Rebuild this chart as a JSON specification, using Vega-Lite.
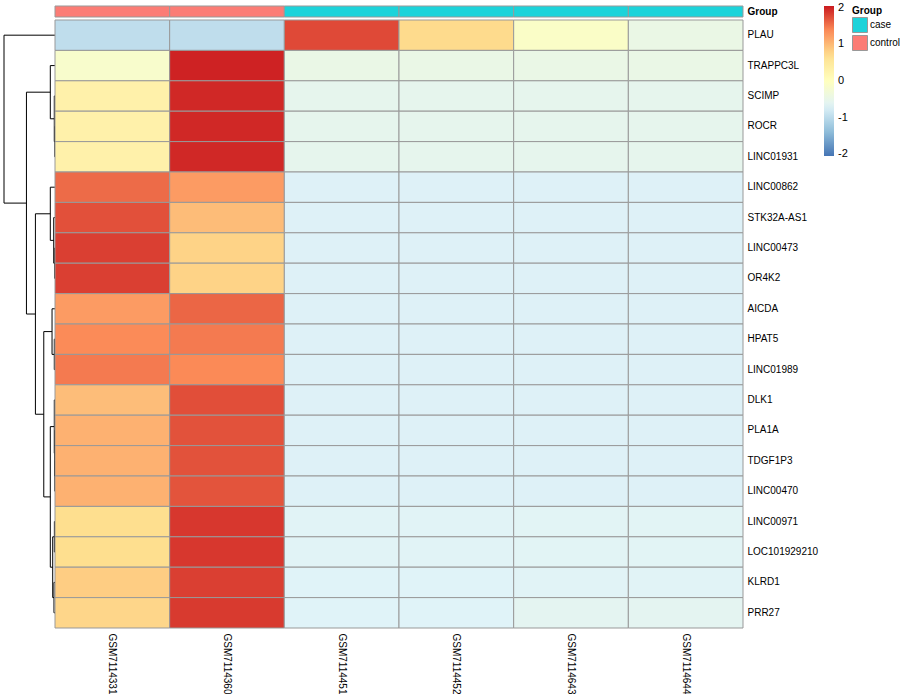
{
  "$schema": "https://vega.github.io/schema/vega-lite/v6.json",
  "padding": {"left": 3, "top": 5, "right": 0, "bottom": 0},
  "background": "white",
  "bounds": "flush",
  "config": {
    "view": {"stroke": null},
    "font": "Liberation Sans",
    "axis": {"labelFont": "Liberation Sans", "labelFontSize": 10, "labelColor": "black", "domain": false, "ticks": false, "grid": false, "title": null},
    "legend": {"labelFont": "Liberation Sans", "titleFont": "Liberation Sans", "labelColor": "black", "titleColor": "black", "padding": 0, "rowPadding": -10}
  },
  "datasets": {
    "links": [
      {"node":"A3","h1":0.04,"h2":0.04,"p1":3,"p2":4},{"node":"A3","h1":0.04,"h2":0,"p1":3,"p2":3},{"node":"A3","h1":0.04,"h2":0,"p1":4,"p2":4},
      {"node":"A2","h1":0.14,"h2":0.14,"p1":2,"p2":3.5},{"node":"A2","h1":0.14,"h2":0,"p1":2,"p2":2},{"node":"A2","h1":0.14,"h2":0.04,"p1":3.5,"p2":3.5},
      {"node":"A","h1":0.92,"h2":0.92,"p1":1,"p2":2.75},{"node":"A","h1":0.92,"h2":0,"p1":1,"p2":1},{"node":"A","h1":0.92,"h2":0.14,"p1":2.75,"p2":2.75},
      {"node":"B1c","h1":0.06,"h2":0.06,"p1":7,"p2":8},{"node":"B1c","h1":0.06,"h2":0,"p1":7,"p2":7},{"node":"B1c","h1":0.06,"h2":0,"p1":8,"p2":8},
      {"node":"B1b","h1":0.25,"h2":0.25,"p1":6,"p2":7.5},{"node":"B1b","h1":0.25,"h2":0,"p1":6,"p2":6},{"node":"B1b","h1":0.25,"h2":0.06,"p1":7.5,"p2":7.5},
      {"node":"B1","h1":0.92,"h2":0.92,"p1":5,"p2":6.75},{"node":"B1","h1":0.92,"h2":0,"p1":5,"p2":5},{"node":"B1","h1":0.92,"h2":0.25,"p1":6.75,"p2":6.75},
      {"node":"B2a2","h1":0.14,"h2":0.14,"p1":10,"p2":11},{"node":"B2a2","h1":0.14,"h2":0,"p1":10,"p2":10},{"node":"B2a2","h1":0.14,"h2":0,"p1":11,"p2":11},
      {"node":"B2a","h1":0.58,"h2":0.58,"p1":9,"p2":10.5},{"node":"B2a","h1":0.58,"h2":0,"p1":9,"p2":9},{"node":"B2a","h1":0.58,"h2":0.14,"p1":10.5,"p2":10.5},
      {"node":"B2b1c","h1":0.04,"h2":0.04,"p1":14,"p2":15},{"node":"B2b1c","h1":0.04,"h2":0,"p1":14,"p2":14},{"node":"B2b1c","h1":0.04,"h2":0,"p1":15,"p2":15},
      {"node":"B2b1b","h1":0.08,"h2":0.08,"p1":13,"p2":14.5},{"node":"B2b1b","h1":0.08,"h2":0,"p1":13,"p2":13},{"node":"B2b1b","h1":0.08,"h2":0.04,"p1":14.5,"p2":14.5},
      {"node":"B2b1","h1":0.14,"h2":0.14,"p1":12,"p2":13.75},{"node":"B2b1","h1":0.14,"h2":0,"p1":12,"p2":12},{"node":"B2b1","h1":0.14,"h2":0.08,"p1":13.75,"p2":13.75},
      {"node":"B2b2a","h1":0.12,"h2":0.12,"p1":16,"p2":17},{"node":"B2b2a","h1":0.12,"h2":0,"p1":16,"p2":16},{"node":"B2b2a","h1":0.12,"h2":0,"p1":17,"p2":17},
      {"node":"B2b2b","h1":0.2,"h2":0.2,"p1":18,"p2":19},{"node":"B2b2b","h1":0.2,"h2":0,"p1":18,"p2":18},{"node":"B2b2b","h1":0.2,"h2":0,"p1":19,"p2":19},
      {"node":"B2b2","h1":0.45,"h2":0.45,"p1":16.5,"p2":18.5},{"node":"B2b2","h1":0.45,"h2":0.12,"p1":16.5,"p2":16.5},{"node":"B2b2","h1":0.45,"h2":0.2,"p1":18.5,"p2":18.5},
      {"node":"B2b","h1":0.92,"h2":0.92,"p1":12.875,"p2":17.5},{"node":"B2b","h1":0.92,"h2":0.14,"p1":12.875,"p2":12.875},{"node":"B2b","h1":0.92,"h2":0.45,"p1":17.5,"p2":17.5},
      {"node":"B2","h1":2.2,"h2":2.2,"p1":9.75,"p2":15.1875},{"node":"B2","h1":2.2,"h2":0.58,"p1":9.75,"p2":9.75},{"node":"B2","h1":2.2,"h2":0.92,"p1":15.1875,"p2":15.1875},
      {"node":"B","h1":3.84,"h2":3.84,"p1":5.875,"p2":12.46875},{"node":"B","h1":3.84,"h2":0.92,"p1":5.875,"p2":5.875},{"node":"B","h1":3.84,"h2":2.2,"p1":12.46875,"p2":12.46875},
      {"node":"N2","h1":5.6,"h2":5.6,"p1":1.875,"p2":9.171875},{"node":"N2","h1":5.6,"h2":0.92,"p1":1.875,"p2":1.875},{"node":"N2","h1":5.6,"h2":3.84,"p1":9.171875,"p2":9.171875},
      {"node":"root","h1":10,"h2":10,"p1":0,"p2":5.5234375},{"node":"root","h1":10,"h2":0,"p1":0,"p2":0},{"node":"root","h1":10,"h2":5.6,"p1":5.5234375,"p2":5.5234375}
    ],
    "groups": [
      {"sample":"GSM7114331","Group":"control","track":"Group"},
      {"sample":"GSM7114360","Group":"control","track":"Group"},
      {"sample":"GSM7114451","Group":"case","track":"Group"},
      {"sample":"GSM7114452","Group":"case","track":"Group"},
      {"sample":"GSM7114643","Group":"case","track":"Group"},
      {"sample":"GSM7114644","Group":"case","track":"Group"}
    ],
    "expr": [
      {"gene":"PLAU","GSM7114331":-0.97,"GSM7114360":-0.97,"GSM7114451":1.77,"GSM7114452":0.72,"GSM7114643":-0.1,"GSM7114644":-0.45},
      {"gene":"TRAPPC3L","GSM7114331":-0.15,"GSM7114360":2.0,"GSM7114451":-0.47,"GSM7114452":-0.47,"GSM7114643":-0.47,"GSM7114644":-0.47},
      {"gene":"SCIMP","GSM7114331":0.3,"GSM7114360":1.97,"GSM7114451":-0.55,"GSM7114452":-0.55,"GSM7114643":-0.55,"GSM7114644":-0.55},
      {"gene":"ROCR","GSM7114331":0.3,"GSM7114360":1.97,"GSM7114451":-0.55,"GSM7114452":-0.55,"GSM7114643":-0.55,"GSM7114644":-0.55},
      {"gene":"LINC01931","GSM7114331":0.3,"GSM7114360":1.97,"GSM7114451":-0.55,"GSM7114452":-0.55,"GSM7114643":-0.55,"GSM7114644":-0.55},
      {"gene":"LINC00862","GSM7114331":1.57,"GSM7114360":1.25,"GSM7114451":-0.7,"GSM7114452":-0.7,"GSM7114643":-0.7,"GSM7114644":-0.7},
      {"gene":"STK32A-AS1","GSM7114331":1.73,"GSM7114360":0.98,"GSM7114451":-0.7,"GSM7114452":-0.7,"GSM7114643":-0.7,"GSM7114644":-0.7},
      {"gene":"LINC00473","GSM7114331":1.83,"GSM7114360":0.79,"GSM7114451":-0.7,"GSM7114452":-0.7,"GSM7114643":-0.7,"GSM7114644":-0.7},
      {"gene":"OR4K2","GSM7114331":1.83,"GSM7114360":0.79,"GSM7114451":-0.7,"GSM7114452":-0.7,"GSM7114643":-0.7,"GSM7114644":-0.7},
      {"gene":"AICDA","GSM7114331":1.25,"GSM7114360":1.6,"GSM7114451":-0.7,"GSM7114452":-0.7,"GSM7114643":-0.7,"GSM7114644":-0.7},
      {"gene":"HPAT5","GSM7114331":1.38,"GSM7114360":1.48,"GSM7114451":-0.7,"GSM7114452":-0.7,"GSM7114643":-0.7,"GSM7114644":-0.7},
      {"gene":"LINC01989","GSM7114331":1.48,"GSM7114360":1.39,"GSM7114451":-0.7,"GSM7114452":-0.7,"GSM7114643":-0.7,"GSM7114644":-0.7},
      {"gene":"DLK1","GSM7114331":0.97,"GSM7114360":1.74,"GSM7114451":-0.7,"GSM7114452":-0.7,"GSM7114643":-0.7,"GSM7114644":-0.7},
      {"gene":"PLA1A","GSM7114331":1.07,"GSM7114360":1.72,"GSM7114451":-0.7,"GSM7114452":-0.7,"GSM7114643":-0.7,"GSM7114644":-0.7},
      {"gene":"TDGF1P3","GSM7114331":1.07,"GSM7114360":1.72,"GSM7114451":-0.7,"GSM7114452":-0.7,"GSM7114643":-0.7,"GSM7114644":-0.7},
      {"gene":"LINC00470","GSM7114331":1.07,"GSM7114360":1.71,"GSM7114451":-0.7,"GSM7114452":-0.7,"GSM7114643":-0.7,"GSM7114644":-0.7},
      {"gene":"LINC00971","GSM7114331":0.69,"GSM7114360":1.88,"GSM7114451":-0.66,"GSM7114452":-0.66,"GSM7114643":-0.64,"GSM7114644":-0.64},
      {"gene":"LOC101929210","GSM7114331":0.69,"GSM7114360":1.88,"GSM7114451":-0.66,"GSM7114452":-0.66,"GSM7114643":-0.64,"GSM7114644":-0.64},
      {"gene":"KLRD1","GSM7114331":0.84,"GSM7114360":1.83,"GSM7114451":-0.68,"GSM7114452":-0.68,"GSM7114643":-0.66,"GSM7114644":-0.66},
      {"gene":"PRR27","GSM7114331":0.76,"GSM7114360":1.86,"GSM7114451":-0.68,"GSM7114452":-0.68,"GSM7114643":-0.6,"GSM7114644":-0.6}
    ]
  },
  "spacing": 0,
  "hconcat": [
    {
      "width": 51,
      "height": 622,
      "data": {"name": "links"},
      "mark": {"type": "rule", "color": "black", "strokeWidth": 1},
      "encoding": {
        "x": {"field": "h1", "type": "quantitative", "scale": {"domain": [0, 10], "reverse": true, "nice": false, "zero": false}, "axis": null},
        "x2": {"field": "h2"},
        "y": {"field": "p1", "type": "quantitative", "scale": {"domain": [-0.96, 19.5], "reverse": true, "nice": false, "zero": false}, "axis": null},
        "y2": {"field": "p2"}
      }
    },
    {
      "spacing": 3,
      "bounds": "flush",
      "vconcat": [
        {
          "width": 688,
          "height": 11,
          "data": {"name": "groups"},
          "mark": {"type": "rect", "stroke": "#999999", "strokeWidth": 1},
          "encoding": {
            "x": {"field": "sample", "type": "nominal", "sort": ["GSM7114331","GSM7114360","GSM7114451","GSM7114452","GSM7114643","GSM7114644"], "axis": null},
            "y": {"field": "track", "type": "nominal", "axis": {"orient": "right", "labelFontWeight": "bold", "labelPadding": 4}},
            "fill": {
              "field": "Group", "type": "nominal",
              "scale": {"domain": ["case", "control"], "range": ["#1CD3DA", "#FB7C75"]},
              "legend": {"orient": "none", "legendX": 848, "legendY": 0, "title": "Group", "titleFontWeight": "bold", "titleFontSize": 10, "titlePadding": 1, "labelFontSize": 10, "symbolType": "square", "symbolSize": 225, "symbolStrokeColor": "#999999", "symbolStrokeWidth": 1, "rowPadding": -10, "labelOffset": 2}
            }
          }
        },
        {
          "width": 688,
          "height": 608,
          "data": {"name": "expr"},
          "transform": [{"fold": ["GSM7114331","GSM7114360","GSM7114451","GSM7114452","GSM7114643","GSM7114644"], "as": ["sample", "z"]}],
          "mark": {"type": "rect", "stroke": "#999999", "strokeWidth": 1},
          "encoding": {
            "x": {"field": "sample", "type": "nominal", "sort": ["GSM7114331","GSM7114360","GSM7114451","GSM7114452","GSM7114643","GSM7114644"], "axis": {"orient": "bottom", "labelAngle": 90, "labelAlign": "left", "labelBaseline": "middle", "labelPadding": 5}},
            "y": {"field": "gene", "type": "nominal", "sort": ["PLAU","TRAPPC3L","SCIMP","ROCR","LINC01931","LINC00862","STK32A-AS1","LINC00473","OR4K2","AICDA","HPAT5","LINC01989","DLK1","PLA1A","TDGF1P3","LINC00470","LINC00971","LOC101929210","KLRD1","PRR27"], "axis": {"orient": "right", "labelPadding": 4}},
            "color": {
              "field": "z", "type": "quantitative",
              "scale": {"domain": [-2.05, -1.37, -0.68, 0, 0.68, 1.37, 2.05], "range": ["#4575B4", "#91BFDB", "#E0F3F8", "#FFFFBF", "#FEE090", "#FC8D59", "#CA1A1F"], "interpolate": "rgb"},
              "legend": {"orient": "none", "legendX": 820, "legendY": 0, "direction": "vertical", "title": null, "gradientLength": 150, "gradientThickness": 10, "gradientStrokeWidth": 0, "values": [2, 1, 0, -1, -2], "labelExpr": "'' + datum.value", "labelFontSize": 11, "labelOffset": 4, "labelOverlap": false}
            }
          }
        }
      ]
    }
  ]
}
